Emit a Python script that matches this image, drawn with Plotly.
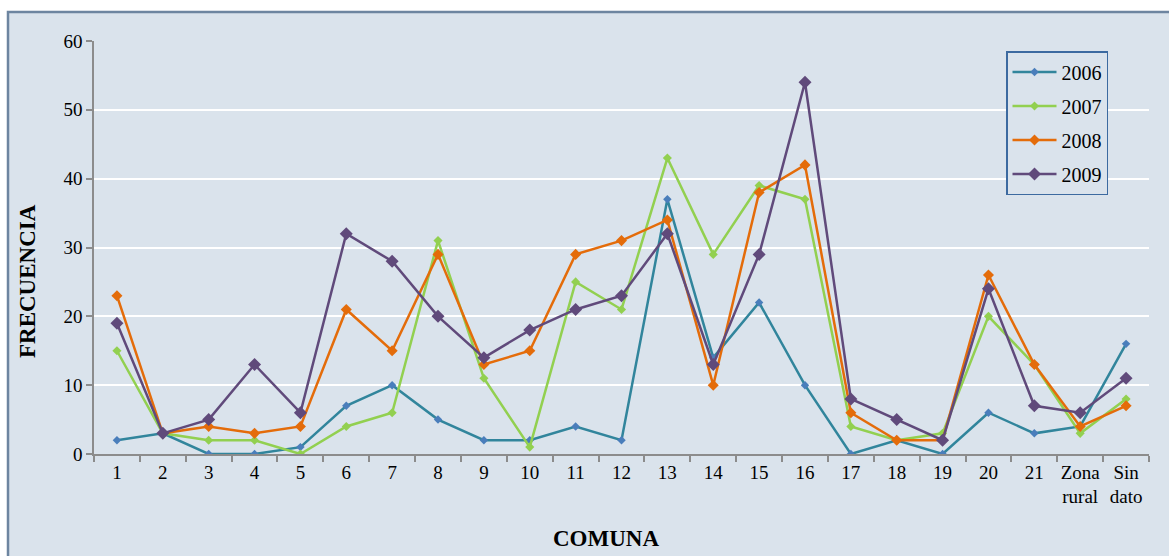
import plotly.graph_objects as go

# Comuna categories on the x axis
comunas = [str(i) for i in range(1, 22)] + ["Zona<br>rural", "Sin<br>dato"]

# Yearly frequency per comuna
freq_2006 = [2, 3, 0, 0, 1, 7, 10, 5, 2, 2, 4, 2, 37, 14, 22, 10, 0, 2, 0, 6, 3, 4, 16]
freq_2007 = [15, 3, 2, 2, 0, 4, 6, 31, 11, 1, 25, 21, 43, 29, 39, 37, 4, 2, 3, 20, 13, 3, 8]
freq_2008 = [23, 3, 4, 3, 4, 21, 15, 29, 13, 15, 29, 31, 34, 10, 38, 42, 6, 2, 2, 26, 13, 4, 7]
freq_2009 = [19, 3, 5, 13, 6, 32, 28, 20, 14, 18, 21, 23, 32, 13, 29, 54, 8, 5, 2, 24, 7, 6, 11]

y_ticks = [0, 10, 20, 30, 40, 50, 60]

BG = "#dae3ec"
FONT = "Liberation Serif"

# canvas geometry (pixels)
W, H = 1169, 556
L, R, T, B = 94, 20, 41, 102
PW, PH = W - L - R, H - T - B


def px_x(px):
    return (px - L) / PW


def px_y(py):
    return (H - B - py) / PH


series = [
    ("2006", freq_2006, "#31859c", "#4a7ebb", 6.5),
    ("2007", freq_2007, "#92d050", "#92d050", 7),
    ("2008", freq_2008, "#e46c0a", "#e46c0a", 8.5),
    ("2009", freq_2009, "#604a7b", "#604a7b", 10),
]

fig = go.Figure()
for name, vals, lc, mc, ms in series:
    fig.add_trace(go.Scatter(
        x=comunas, y=vals, name=name, legendgroup=name,
        mode="lines+markers",
        line=dict(color=lc, width=2.5),
        marker=dict(symbol="diamond", size=ms, color=mc, line=dict(width=0)),
    ))

fig.update_layout(
    width=W, height=H,
    margin=dict(l=L, r=R, t=T, b=B),
    paper_bgcolor="white",
    plot_bgcolor=BG,
    font=dict(family=FONT, color="black", size=19),
    showlegend=True,
    legend=dict(
        x=px_x(1006), y=px_y(51), xanchor="left", yanchor="top",
        bgcolor=BG, bordercolor="#3c6aa0", borderwidth=1.5,
        font=dict(family=FONT, size=20, color="black"),
        tracegroupgap=5, itemwidth=44,
    ),
    xaxis=dict(
        type="category", range=[-0.5, 22.5],
        showgrid=False, showline=True, linecolor="#8c8c8c", linewidth=1.5,
        ticks="outside", ticklen=6, tickcolor="#8c8c8c", tickwidth=1.5,
        tickson="boundaries", tickangle=0,
        tickfont=dict(family=FONT, size=19, color="black"),
    ),
    yaxis=dict(
        range=[0, 60], tickvals=y_ticks,
        showgrid=True, gridcolor="white", gridwidth=2,
        zeroline=False, showline=True, linecolor="#8c8c8c", linewidth=1.5,
        ticks="outside", ticklen=6, tickcolor="#8c8c8c", tickwidth=1.5,
        tickfont=dict(family=FONT, size=19, color="black"),
    ),
    shapes=[
        dict(
            type="rect", xref="paper", yref="paper", layer="below",
            x0=px_x(8), x1=px_x(1200), y0=px_y(600), y1=px_y(12),
            fillcolor=BG, line=dict(color="#6d85a0", width=2.5),
        )
    ],
    annotations=[
        dict(
            text="<b>COMUNA</b>", xref="paper", yref="paper",
            x=px_x(606), y=px_y(538), xanchor="center", yanchor="middle",
            showarrow=False, font=dict(family=FONT, size=23, color="black"),
        ),
        dict(
            text="<b>FRECUENCIA</b>", xref="paper", yref="paper",
            x=px_x(27), y=px_y(281), xanchor="center", yanchor="middle",
            textangle=-90,
            showarrow=False, font=dict(family=FONT, size=23, color="black"),
        ),
    ],
)

fig.write_html("out.html")
